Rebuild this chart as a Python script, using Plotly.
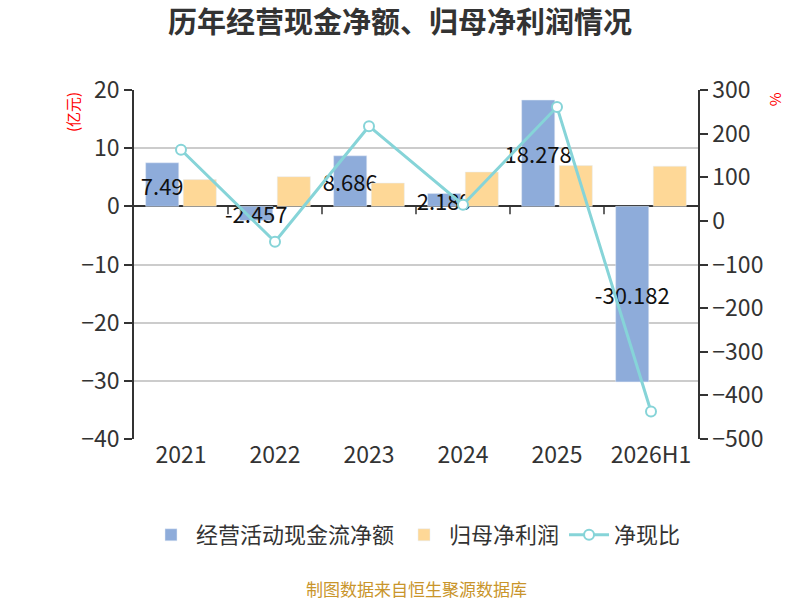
import plotly.graph_objects as go

# 数据
years = ["2021", "2022", "2023", "2024", "2025", "2026H1"]
cash_flow = [7.49, -2.457, 8.686, 2.189, 18.278, -30.182]      # 经营活动现金流净额(亿元)
net_profit = [4.6, 5.1, 4.0, 5.9, 7.0, 6.9]                   # 归母净利润(亿元)
cash_ratio = [163, -48, 217, 37, 261, -437]                     # 净现比(%)

left_ticks = [-40, -30, -20, -10, 0, 10, 20]
right_ticks = [-500, -400, -300, -200, -100, 0, 100, 200, 300]

font_family = "Noto Sans CJK SC"
axis_color = "#333333"

fig = go.Figure()

fig.add_trace(go.Bar(
    x=years, y=cash_flow, name="经营活动现金流净额",
    marker=dict(color="#8eacda"),
    text=[str(v) for v in cash_flow],
    textposition="inside", insidetextanchor="middle",
    textangle=0, constraintext="none",
    insidetextfont=dict(color="#111111", size=22, family=font_family),
    cliponaxis=False,
))
fig.add_trace(go.Bar(
    x=years, y=net_profit, name="归母净利润",
    marker=dict(color="#fed897"),
))
fig.add_trace(go.Scatter(
    x=years, y=cash_ratio, name="净现比", yaxis="y2",
    mode="lines+markers",
    line=dict(color="#86d4d8", width=3),
    marker=dict(symbol="circle", size=10, color="white",
                line=dict(color="#86d4d8", width=2)),
    cliponaxis=False,
))

# x轴在零点处的分隔刻度
for i in range(len(years) - 1):
    fig.add_shape(type="line", xref="x", yref="y",
                  x0=i + 0.5, x1=i + 0.5,
                  ysizemode="pixel", yanchor=0, y0=0, y1=-8,
                  line=dict(color=axis_color, width=1.5))

fig.update_layout(
    width=800, height=600,
    paper_bgcolor="white", plot_bgcolor="white",
    margin=dict(l=134, r=102, t=90, b=161, autoexpand=False),
    font=dict(family=font_family, color=axis_color),
    title=dict(text="<b>历年经营现金净额、归母净利润情况</b>",
               x=0.5, y=0.962, xanchor="center", yanchor="middle",
               font=dict(size=29, color="#333333")),
    barmode="group", bargap=0.2, bargroupgap=0.12,
    xaxis=dict(type="category", showgrid=False, showline=False,
               ticks="", tickfont=dict(size=23, color=axis_color)),
    yaxis=dict(range=[-40, 20], tickvals=left_ticks,
               showgrid=True, gridcolor="#cccccc", gridwidth=1.5,
               zeroline=True, zerolinecolor=axis_color, zerolinewidth=1.5,
               showline=True, linecolor=axis_color, linewidth=1.5,
               ticks="outside", ticklen=8, tickcolor=axis_color, tickwidth=1.5,
               tickfont=dict(size=23, color=axis_color)),
    yaxis2=dict(range=[-500, 300], tickvals=right_ticks,
                overlaying="y", side="right",
                showgrid=False, zeroline=False,
                showline=True, linecolor=axis_color, linewidth=1.5,
                ticks="outside", ticklen=8, tickcolor=axis_color, tickwidth=1.5,
                tickfont=dict(size=23, color=axis_color)),
    legend=dict(orientation="h", x=0.5, xanchor="center", y=-0.275, yanchor="middle",
                font=dict(size=22, color=axis_color), itemwidth=40),
    showlegend=True,
)

fig.add_annotation(text="(亿元)", xref="paper", yref="paper", x=-0.11, y=1.0,
                   xanchor="center", yanchor="top", textangle=-90, showarrow=False,
                   font=dict(size=15, color="red"))
fig.add_annotation(text="%", xref="paper", yref="paper", x=1.135, y=1.0,
                   xanchor="center", yanchor="top", textangle=-90, showarrow=False,
                   font=dict(size=15, color="red"))
fig.add_annotation(text="制图数据来自恒生聚源数据库", xref="paper", yref="paper",
                   x=0.5, y=-0.428, xanchor="center", yanchor="middle", showarrow=False,
                   font=dict(size=17, color="#c9952b"))

# 去掉页面默认边距
fig.write_html("out.html", config={"displayModeBar": False},
               post_script="document.body.style.margin='0';")
